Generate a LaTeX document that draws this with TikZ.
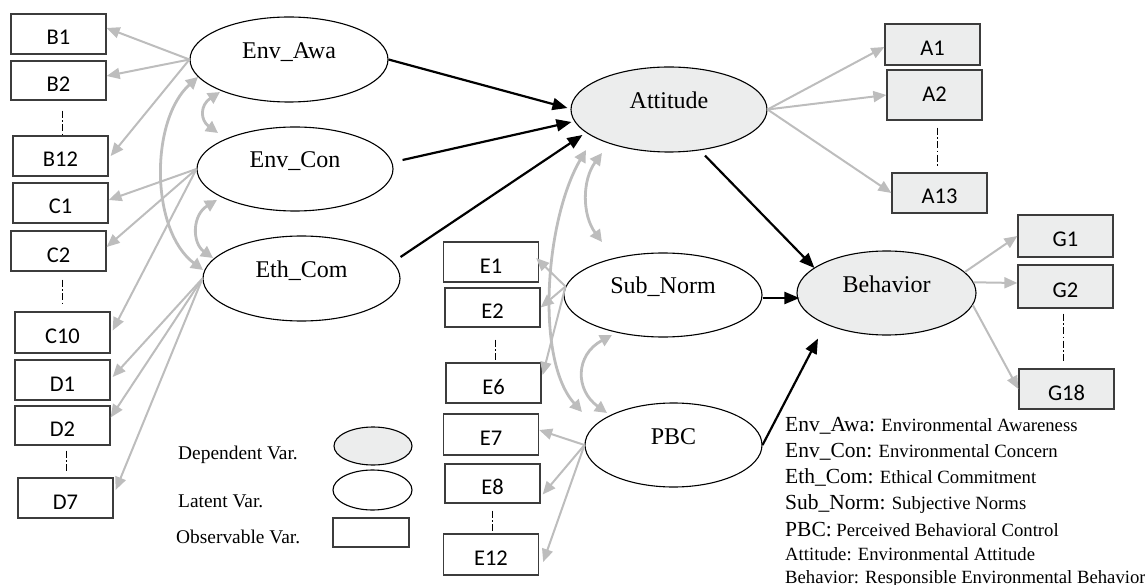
\documentclass[tikz,border=0pt]{standalone}
\usepackage{fontspec}
\setmainfont{Liberation Serif}
\newfontfamily\boxfont{Carlito}
\usetikzlibrary{arrows.meta,shapes.geometric,calc}
\definecolor{lg}{RGB}{189,189,189}
\definecolor{fillg}{RGB}{236,237,237}
\definecolor{bordg}{RGB}{60,60,60}
\newcommand\mkabbr[1]{{\fontsize{21.5}{21.5}\selectfont #1}}
\begin{document}
\begin{tikzpicture}[x=1pt,y=-1pt,
 lat/.style={ellipse, draw=black, line width=1.1pt, inner sep=0pt, font=\fontsize{24}{24}\selectfont, text height=8pt, text depth=10pt},
 dep/.style={lat, fill=fillg},
 obs/.style={rectangle, draw=bordg, line width=1.3pt, inner sep=0pt, minimum width=95pt, font=\boxfont\fontsize{22.5}{22.5}\selectfont, text height=22pt, text depth=0pt},
 obsd/.style={obs, fill=fillg},
 ld/.style={draw=lg, line width=2pt, -{Triangle[length=13pt,width=11pt]}},
 cov/.style={draw=lg, line width=2.8pt, {Triangle[length=12pt,width=12pt]}-{Triangle[length=12pt,width=12pt]}},
 causal/.style={draw=black, line width=2.2pt, -{Triangle[length=15pt,width=12pt]}},
 sepline/.style={draw=black, line width=0.8pt, dash pattern=on 7pt off 2.5pt on 1.5pt off 2.5pt},
 lgtxt/.style={anchor=base west, inner sep=0pt, font=\fontsize{18.7}{18.7}\selectfont},
 legtxt/.style={anchor=base west, inner sep=0pt, font=\fontsize{19.4}{19.4}\selectfont},
 ]
\useasboundingbox (0,0) rectangle (1145,585);

% latent variables
\node[lat, minimum width=198pt, minimum height=85pt] (awa) at (289,59.5) {Env\_Awa};
\node[lat, minimum width=196pt, minimum height=84pt] (con) at (295,169) {Env\_Con};
\node[lat, minimum width=197pt, minimum height=85pt] (eth) at (301.5,278.5) {Eth\_Com};
\node[dep, minimum width=196pt, minimum height=85pt] (att) at (669,109.5) {Attitude};
\node[lat, minimum width=198pt, minimum height=84pt] (sub) at (663,295) {Sub\_Norm};
\node[lat, minimum width=177pt, minimum height=84pt] (pbc) at (673.5,445) {PBC};
\node[dep, minimum width=179pt, minimum height=84pt] (beh) at (886.5,293) {Behavior};

% observable variables
\node[obs, minimum height=40pt] (b1) at (58.5,34) {B1};
\node[obs, minimum height=39pt] (b2) at (58.5,80.5) {B2};
\node[obs, minimum height=40pt] (b12) at (60.5,156) {B12};
\node[obs, minimum height=40pt] (c1) at (60.5,203) {C1};
\node[obs, minimum height=40pt] (c2) at (58.5,251) {C2};
\node[obs, minimum height=41pt] (c10) at (62.5,332.5) {C10};
\node[obs, minimum height=40pt] (d1) at (62.5,380) {D1};
\node[obs, minimum height=39pt] (d2) at (62.5,425.5) {D2};
\node[obs, minimum height=40pt] (d7) at (65.5,498) {D7};
\node[obs, minimum height=40pt] (e1) at (491,262) {E1};
\node[obs, minimum height=39pt] (e2) at (492.5,307.5) {E2};
\node[obs, minimum height=40pt] (e6) at (493.5,383) {E6};
\node[obs, minimum height=41pt] (e7) at (491,434.5) {E7};
\node[obs, minimum height=39pt] (e8) at (492.5,483.5) {E8};
\node[obs, minimum height=41pt] (e12) at (491,554.5) {E12};
\node[obsd, minimum height=41pt] (a1) at (932.5,44.5) {A1};
\node[obsd, minimum height=50pt, text height=14pt] (a2) at (934.5,95) {A2};
\node[obsd, minimum height=40pt] (a13) at (939.5,193) {A13};
\node[obsd, minimum height=42pt] (g1) at (1065.5,236) {G1};
\node[obsd, minimum height=43pt] (g2) at (1065.5,286.5) {G2};
\node[obsd, minimum height=40pt] (g18) at (1066.5,389) {G18};

% dash-dot separators
\draw[sepline] ([xshift=3.5pt,yshift=-10pt]b2.south) -- ([xshift=1.5pt,yshift=1pt]b12.north);
\draw[sepline] ([xshift=3.5pt,yshift=-8pt]c2.south) -- ([xshift=-0.5pt,yshift=7pt]c10.north);
\draw[sepline] ([xshift=3.5pt,yshift=-5pt]d2.south) -- ([xshift=0.5pt,yshift=5pt]d7.north);
\draw[sepline] ([xshift=2.5pt,yshift=-12pt]e2.south) -- ([xshift=1.5pt,yshift=1pt]e6.north);
\draw[sepline] ([xshift=-0.5pt,yshift=-7pt]e8.south) -- ([xshift=1pt,yshift=1pt]e12.north);
\draw[sepline] ([xshift=2.5pt,yshift=-7pt]a2.south) -- ([xshift=-2.5pt,yshift=6pt]a13.north);
\draw[sepline] ([xshift=-2.5pt,yshift=-5pt]g2.south) -- ([xshift=-3.5pt,yshift=7pt]g18.north);

% loadings
\draw[ld] (awa.west) -- ([yshift=6pt]b1.east);
\draw[ld] (awa.west) -- ([yshift=4.5pt]b2.east);
\draw[ld] (awa.west) -- ([xshift=2pt]b12.east);
\draw[ld] (con.west) -- ([yshift=3pt]c1.east);
\draw[ld] (con.west) -- ([yshift=4pt]c2.east);
\draw[ld] (con.west) -- ([xshift=2pt,yshift=2pt]c10.east);
\draw[ld] (eth.west) -- ([xshift=2pt,yshift=3pt]d1.east);
\draw[ld] (eth.west) -- ([yshift=8pt]d2.east);
\draw[ld] (eth.west) -- ([xshift=2pt,yshift=8pt]d7.east);
\draw[ld] (sub.175) -- ([xshift=-3pt,yshift=4pt]e1.east);
\draw[ld] (sub.175) -- (e2.east);
\draw[ld] (sub.175) -- ([xshift=1pt,yshift=8pt]e6.east);
\draw[ld] (pbc.west) -- ([yshift=4.5pt]e7.east);
\draw[ld] (pbc.west) -- ([xshift=2pt,yshift=-11pt]e8.east);
\draw[ld] (pbc.west) -- ([xshift=4pt,yshift=-7.5pt]e12.east);
\draw[ld] (att.east) -- ([yshift=-2.5pt]a1.west);
\draw[ld] (att.east) -- (a2.west);
\draw[ld] (att.east) -- (a13.west);
\draw[ld] (beh.15) -- (g1.west);
\draw[ld] (beh.7) -- ([yshift=3.5pt]g2.west);
\draw[ld] (beh.-8) -- (g18.west);

% structural paths
\draw[causal] (awa.east) -- ([xshift=-3pt,yshift=1.5pt]att.west);
\draw[causal] ([xshift=9pt,yshift=9pt]con.east) -- ([xshift=1pt,yshift=-12.5pt]att.west);
\draw[causal] ([yshift=21.5pt]eth.east) -- ([xshift=12pt,yshift=-25.5pt]att.west);
\draw[causal] ([xshift=36pt,yshift=-3pt]att.south) -- ([xshift=18pt,yshift=25pt]beh.west);
\draw[causal] ([yshift=-3pt]sub.east) -- ([xshift=3pt,yshift=-5pt]beh.west);
\draw[causal] (pbc.east) -- ([xshift=-68.5pt,yshift=-3pt]beh.south);

% covariances
\draw[cov] ($(awa.center)+(-69,32.5)$) .. controls (200,105) and (200,120) .. ($(con.center)+(-77,-36)$);
\draw[cov] ($(con.center)+(-78,31)$) .. controls (192,215) and (192,243) .. ($(eth.center)+(-88.5,-20.5)$);
\draw[cov] ($(awa.center)+(-91,17.5)$) .. controls (150,120) and (150,230) .. ($(eth.center)+(-98.5,-8.5)$);
\draw[cov] ($(att.center)+(-67,43.5)$) .. controls (582,180) and (582,215) .. ($(sub.center)+(-61,-53)$);
\draw[cov] ($(att.center)+(-83,40.5)$) .. controls (545,220) and (535,360) .. ($(pbc.center)+(-91.5,-33)$);
\draw[cov] ($(sub.center)+(-51,40)$) .. controls (575,355) and (575,390) .. ($(pbc.center)+(-66.5,-32)$);

% legend
\node[dep, minimum width=78pt, minimum height=38pt] (legdep) at (373,446) {};
\node[lat, minimum width=79pt, minimum height=40pt] (leglat) at (372.5,490) {};
\node[rectangle, draw=bordg, line width=1.3pt, minimum width=76pt, minimum height=29pt, inner sep=0pt] (legobs) at (371,532.5) {};
\node[legtxt] (tdep) at (178,459) {Dependent Var.};
\node[legtxt] (tlat) at (178,507) {Latent Var.};
\node[legtxt] (tobs) at (176,543) {Observable Var.};

% definitions
\node[lgtxt] (def1) at (785,431) {\mkabbr{Env\_Awa:} Environmental Awareness};
\node[lgtxt] (def2) at (785,457) {\mkabbr{Env\_Con:} Environmental Concern};
\node[lgtxt] (def3) at (785,483) {\mkabbr{Eth\_Com:} Ethical Commitment};
\node[lgtxt] (def4) at (785,509) {\mkabbr{Sub\_Norm:} Subjective Norms};
\node[lgtxt] (def5) at (785,536) {\mkabbr{PBC:} Perceived Behavioral Control};
\node[lgtxt] (def6) at (785,560) {Attitude: Environmental Attitude};
\node[lgtxt] (def7) at (785,583) {Behavior: Responsible Environmental Behavior};
\end{tikzpicture}
\end{document}
